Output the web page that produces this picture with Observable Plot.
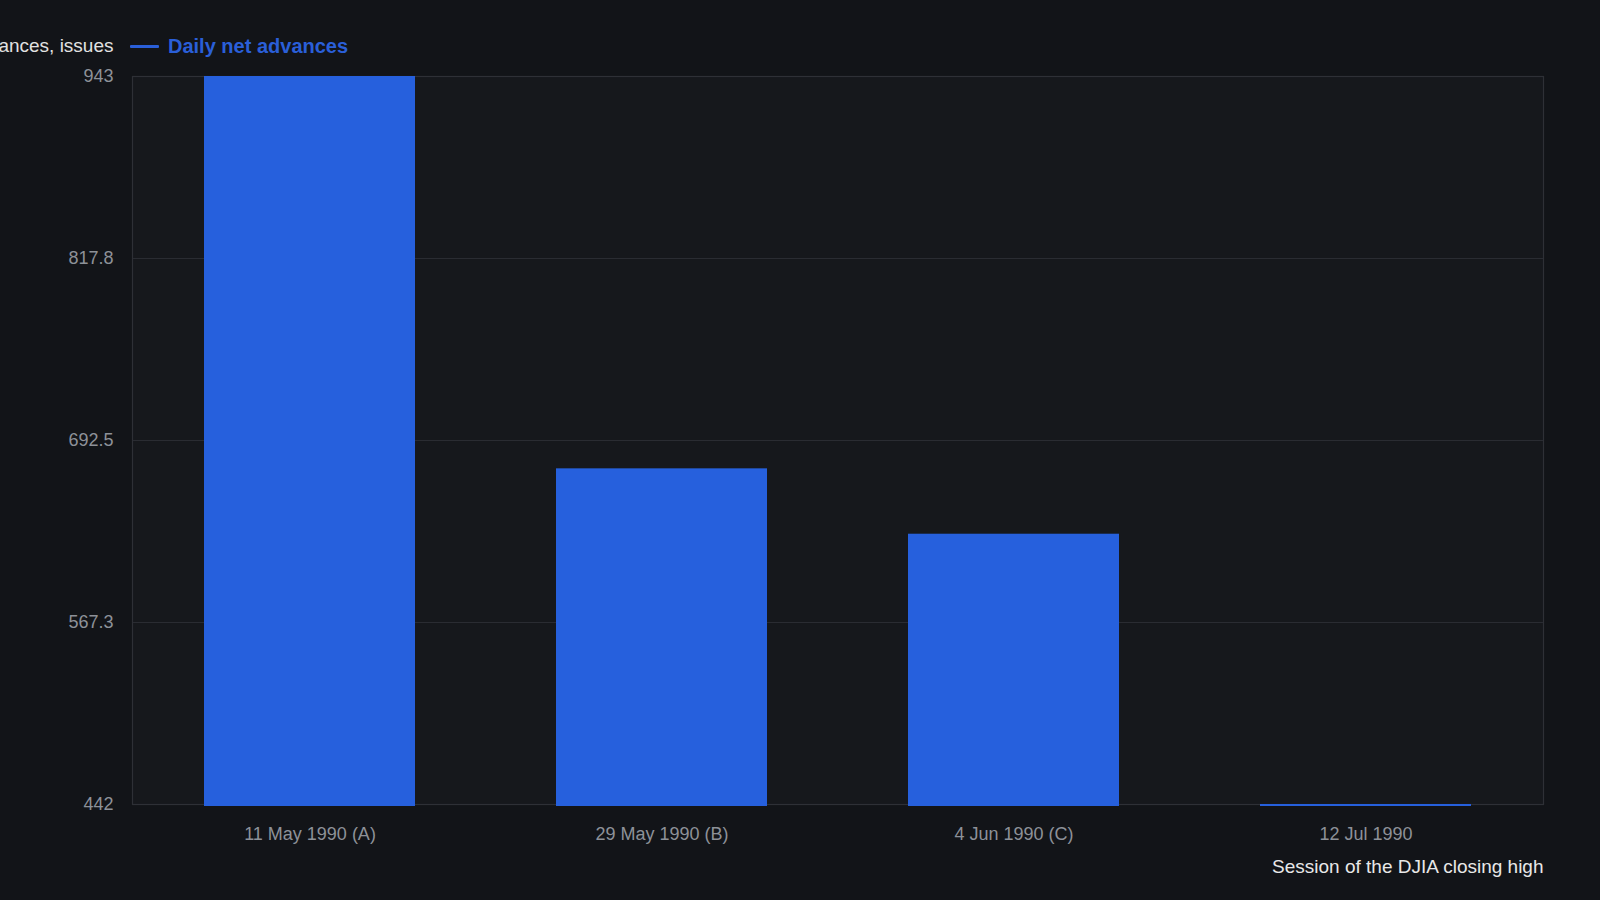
<!DOCTYPE html>
<html>
<head>
<meta charset="utf-8">
<script src="https://cdn.jsdelivr.net/npm/d3@7"></script>
<script src="https://cdn.jsdelivr.net/npm/@observablehq/plot@0.6"></script>
<style>
  html, body { margin: 0; padding: 0; background: #121418; }
  body { width: 1600px; height: 900px; overflow: hidden; font-family: "Liberation Sans", Arial, sans-serif; }
  #wrap { position: relative; width: 1600px; height: 900px; }
  #legend { position: absolute; left: 130px; top: 35px; display: flex; align-items: center; gap: 9px;
            font-weight: bold; font-size: 20px; color: #2a5fd8; }
  #legend .sw { width: 29px; height: 3px; background: #2a5fd8; border-radius: 1px; }
</style>
</head>
<body>
<div id="wrap">
  <div id="chart"></div>
  <div id="legend"><span class="sw"></span><span>Daily net advances</span></div>
</div>
<script>
const sessions = ["11 May 1990 (A)", "29 May 1990 (B)", "4 Jun 1990 (C)", "12 Jul 1990"];
const netAdvances = [943, 673, 628, 442];
const yTicks = [442, 567.25, 692.5, 817.75, 943];
const yLabel = "Net advances, issues";
const xLabel = "Session of the DJIA closing high";

const data = sessions.map((s, i) => ({session: s, value: netAdvances[i]}));
const yMin = d3.min(netAdvances), yMax = d3.max(netAdvances);

const chart = Plot.plot({
  width: 1600,
  height: 900,
  marginTop: 76,
  marginBottom: 96,
  marginLeft: 132,
  marginRight: 57,
  style: {background: "transparent", fontFamily: "'Liberation Sans', Arial, sans-serif", fontSize: "18px"},
  x: {type: "band", domain: sessions, paddingInner: 0.4, paddingOuter: 0.2, label: null},
  y: {domain: [yMin, yMax], label: null},
  marks: [
    Plot.frame({fill: "#16181c", stroke: null}),
    Plot.gridY(yTicks, {stroke: "#2a2c32", strokeOpacity: 1, strokeWidth: 1}),
    Plot.frame({stroke: "#2e3036", strokeWidth: 1.2}),
    Plot.barY(data, {x: "session", y1: yMin, y2: "value", fill: "#2660dd", insetBottom: -2}),
    Plot.axisY({ticks: yTicks, tickFormat: d3.format(".1~f"), tickSize: 0, tickPadding: 19,
                fill: "#8d9198", fontSize: 18, label: null}),
    Plot.axisX({tickSize: 0, tickPadding: 23, fill: "#8d9198", fontSize: 18, label: null}),
    Plot.text([yLabel], {frameAnchor: "top-left", dx: -19, dy: -38, textAnchor: "end",
                         fill: "#e2e2e2", fontSize: 19}),
    Plot.text([xLabel], {frameAnchor: "bottom-right", dx: 0, dy: 68, textAnchor: "end",
                         fill: "#e8e8e8", fontSize: 19})
  ]
});
document.getElementById("chart").appendChild(chart);
</script>
</body>
</html>
